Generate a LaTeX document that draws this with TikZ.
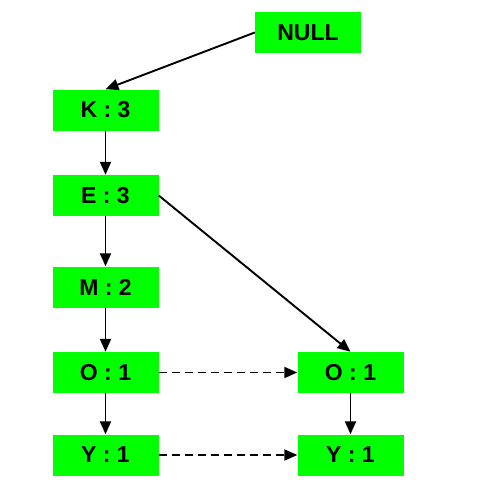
\documentclass[tikz,border=0pt]{standalone}
\usepackage{fontspec}
\setmainfont{Liberation Sans}
\usetikzlibrary{arrows.meta}
\begin{document}
\begin{tikzpicture}[x=1pt,y=-1pt,
  box/.style={fill={rgb,255:red,0;green,255;blue,0}, draw=none, minimum width=106pt, minimum height=41pt, inner sep=0pt, font=\fontsize{23}{26}\selectfont\bfseries},
  arr/.style={line width=1.9pt, -{Triangle[length=13pt,width=11pt]}},
  darr/.style={arr, dash pattern=on 8pt off 5pt}]
\useasboundingbox (0,0) rectangle (492,487);
\node[box] (null) at (308,32.5) {NULL};
\node[box] (k) at (105.5,110) {K : 3};
\node[box] (e) at (105.5,195.5) {E : 3};
\node[box] (m) at (105.5,287) {M : 2};
\node[box] (o) at (105.5,372.5) {O : 1};
\node[box] (y) at (105.5,455) {Y : 1};
\node[box] (o2) at (350.5,372.5) {O : 1};
\node[box] (y2) at (350.5,455) {Y : 1};
\draw[arr] (null.west) -- (k.north);
\draw[arr] (k) -- (e);
\draw[arr] (e) -- (m);
\draw[arr] (m) -- (o);
\draw[arr] (o) -- (y);
\draw[arr] (e.east) -- (o2.north);
\draw[arr] (o2) -- (y2);
\draw[darr] (o) -- (o2);
\draw[darr] (y) -- (y2);
\end{tikzpicture}
\end{document}
